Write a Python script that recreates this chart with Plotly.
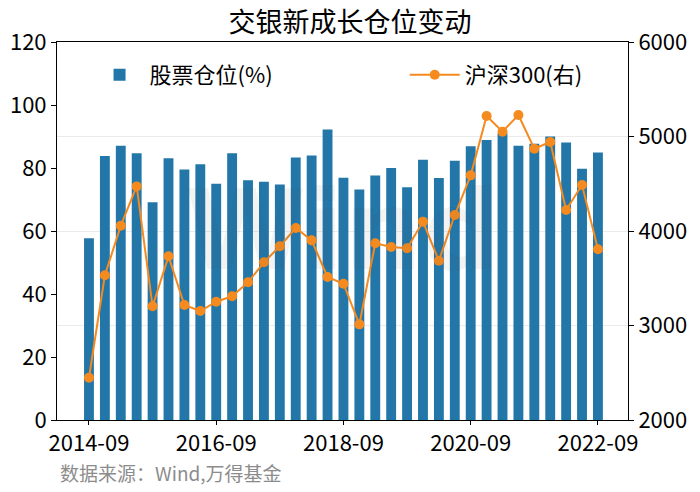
import plotly.graph_objects as go

quarters = []
for y in range(2014, 2023):
    for m in ["03", "06", "09", "12"]:
        q = f"{y}-{m}"
        if "2014-09" <= q <= "2022-09":
            quarters.append(q)

stock_position = [57.7, 83.8, 87.1, 84.7, 69.1, 83.1, 79.5, 81.2, 75.0, 84.7,
                  76.1, 75.6, 74.8, 83.3, 84.0, 92.2, 76.9, 73.2, 77.6, 80.0,
                  73.9, 82.6, 76.8, 82.3, 86.9, 88.9, 91.0, 87.1, 87.7, 90.0,
                  88.1, 79.8, 84.9]
hs300 = [2447, 3531, 4056, 4472, 3203, 3732, 3217, 3153, 3252, 3309,
         3457, 3669, 3838, 4032, 3901, 3513, 3442, 3012, 3870, 3831,
         3817, 4099, 3686, 4169, 4589, 5217, 5051, 5228, 4871, 4942,
         4222, 4487, 3806]
tick_labels = ["2014-09", "2016-09", "2018-09", "2020-09", "2022-09"]

idx = list(range(len(quarters)))
tick_idx = [quarters.index(t) for t in tick_labels]

FONT = "Noto Sans CJK SC"
TICK = 22

fig = go.Figure()
fig.add_trace(go.Bar(
    x=idx, y=stock_position, name="股票仓位(%)",
    marker=dict(color="#2276a8", line=dict(width=0)),
    width=0.62, yaxis="y", legend="legend",
    customdata=quarters,
))
fig.add_trace(go.Scatter(
    x=idx, y=hs300, name="沪深300(右)", mode="lines+markers",
    line=dict(color="#f58a1f", width=2),
    marker=dict(color="#f58a1f", size=10),
    yaxis="y2", legend="legend2",
    customdata=quarters,
))

fig.update_layout(
    width=700, height=492,
    margin=dict(l=57, r=72, t=42, b=72, autoexpand=False),
    paper_bgcolor="white", plot_bgcolor="white",
    font=dict(family=FONT, size=TICK, color="black"),
    showlegend=True,
    title=dict(text="交银新成长仓位变动", x=0.5, xanchor="center",
               y=0.955, yanchor="middle", font=dict(size=27, family=FONT)),
    xaxis=dict(
        range=[-2.01, 33.89], tickvals=tick_idx, ticktext=tick_labels,
        showline=True, linecolor="black", linewidth=1, mirror=True,
        ticks="outside", ticklen=4, tickcolor="black", showgrid=False,
        zeroline=False, tickfont=dict(size=TICK), automargin=False,
    ),
    yaxis=dict(
        range=[0, 120], dtick=20, showline=True, linecolor="black",
        linewidth=1, ticks="outside", ticklen=5, tickcolor="black",
        showgrid=False, zeroline=False, tickfont=dict(size=TICK),
        automargin=False,
    ),
    yaxis2=dict(
        range=[2000, 6000], dtick=1000, overlaying="y", side="right",
        showline=True, linecolor="black", linewidth=1, ticks="outside",
        ticklen=5, tickcolor="black", showgrid=True, gridcolor="#ebebeb",
        gridwidth=1, zeroline=False, tickfont=dict(size=TICK),
        automargin=False,
    ),
    legend=dict(x=0.057, y=0.913, xanchor="left", yanchor="middle",
                bgcolor="rgba(0,0,0,0)", font=dict(size=TICK),
                itemwidth=50),
    legend2=dict(x=0.609, y=0.913, xanchor="left", yanchor="middle",
                 bgcolor="rgba(0,0,0,0)", font=dict(size=TICK),
                 itemwidth=50),
    annotations=[
        dict(text="<b>Wind</b>", xref="paper", yref="paper", x=0.5, y=0.5,
             xanchor="center", yanchor="middle", showarrow=False,
             font=dict(size=110, color="rgba(90,90,90,0.07)", family="DejaVu Sans")),
        dict(text="数据来源：Wind,万得基金", xref="paper", yref="paper",
             x=0.002, y=-0.14, xanchor="left", yanchor="middle", showarrow=False,
             font=dict(size=19, color="#8c8c8c", family=FONT)),
    ],
)

fig.write_html("out.html", config={"displayModeBar": False},
               post_script="document.body.style.margin='0';")
